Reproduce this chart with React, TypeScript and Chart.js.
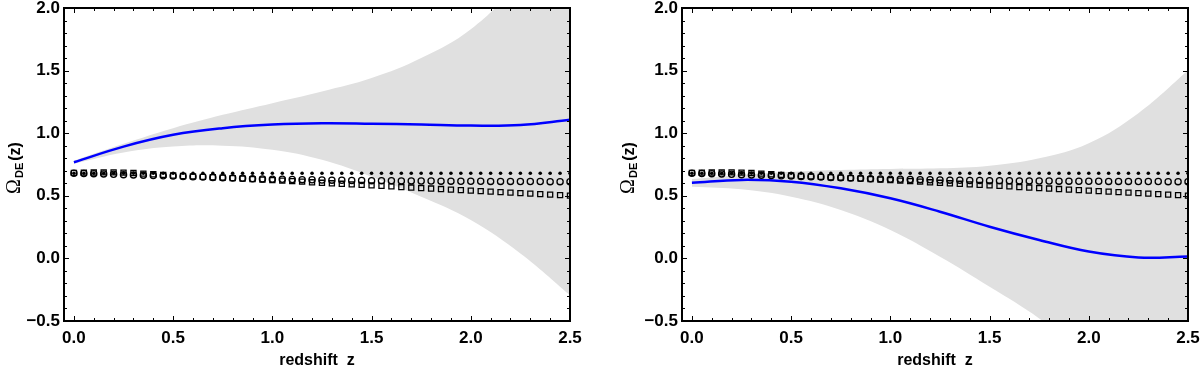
import React, { useEffect, useRef } from 'react';
import { Chart, registerables } from 'chart.js';

Chart.register(...registerables);

// ---------------- data ----------------
const markerZ = [
  0, 0.05, 0.1, 0.15, 0.2, 0.25, 0.3, 0.35, 0.4, 0.45,
  0.5, 0.55, 0.6, 0.65, 0.7, 0.75, 0.8, 0.85, 0.9, 0.95,
  1.0, 1.05, 1.1, 1.15, 1.2, 1.25, 1.3, 1.35, 1.4, 1.45,
  1.5, 1.55, 1.6, 1.65, 1.7, 1.75, 1.8, 1.85, 1.9, 1.95,
  2.0, 2.05, 2.1, 2.15, 2.2, 2.25, 2.3, 2.35, 2.4, 2.45, 2.5,
];

const dotValues = [
  0.68, 0.68, 0.68, 0.68, 0.68, 0.68, 0.68, 0.68, 0.68, 0.68,
  0.68, 0.68, 0.68, 0.68, 0.68, 0.68, 0.68, 0.68, 0.68, 0.68,
  0.68, 0.68, 0.68, 0.68, 0.68, 0.68, 0.68, 0.68, 0.68, 0.68,
  0.68, 0.68, 0.68, 0.68, 0.68, 0.68, 0.68, 0.68, 0.68, 0.68,
  0.68, 0.68, 0.68, 0.68, 0.68, 0.68, 0.68, 0.68, 0.68, 0.68, 0.68,
];

const circleValues = [
  0.680, 0.679, 0.677, 0.675, 0.672, 0.669, 0.667, 0.665, 0.662, 0.660,
  0.658, 0.655, 0.652, 0.650, 0.647, 0.645, 0.642, 0.640, 0.637, 0.635,
  0.633, 0.632, 0.630, 0.629, 0.628, 0.626, 0.625, 0.624, 0.623, 0.622,
  0.621, 0.620, 0.620, 0.619, 0.619, 0.618, 0.618, 0.617, 0.617, 0.616,
  0.616, 0.616, 0.615, 0.615, 0.615, 0.614, 0.614, 0.614, 0.613, 0.613, 0.613,
];

const squareValues = [
  0.683, 0.685, 0.686, 0.687, 0.687, 0.685, 0.682, 0.677, 0.672, 0.667,
  0.662, 0.658, 0.655, 0.651, 0.648, 0.645, 0.641, 0.637, 0.633, 0.629,
  0.625, 0.621, 0.617, 0.613, 0.608, 0.604, 0.600, 0.596, 0.591, 0.587,
  0.583, 0.579, 0.575, 0.570, 0.566, 0.562, 0.558, 0.554, 0.549, 0.545,
  0.541, 0.537, 0.533, 0.529, 0.525, 0.521, 0.517, 0.513, 0.509, 0.505, 0.501,
];

const fitZ = [0, 0.25, 0.5, 0.75, 1.0, 1.25, 1.5, 1.75, 2.0, 2.25, 2.5];

// left panel
const leftCurve = [0.768, 0.893, 0.987, 1.04, 1.069, 1.08, 1.076, 1.069, 1.061, 1.066, 1.107];
const leftUpper = [0.78, 0.915, 1.04, 1.147, 1.24, 1.333, 1.44, 1.6, 1.83, 2.22, 2.75];
const leftLower = [0.755, 0.845, 0.893, 0.9, 0.867, 0.787, 0.653, 0.493, 0.307, 0.04, -0.293];

// right panel
const rightCurve = [0.605, 0.627, 0.613, 0.56, 0.48, 0.373, 0.253, 0.147, 0.055, 0.008, 0.015];
const rightUpper = [0.635, 0.667, 0.693, 0.707, 0.715, 0.72, 0.741, 0.8, 0.92, 1.16, 1.5];
const rightLower = [0.573, 0.552, 0.493, 0.387, 0.227, 0.013, -0.227, -0.48, -0.8, -1.15, -1.55];

const xTickValues = [0, 0.5, 1.0, 1.5, 2.0, 2.5];
const yTickValues = [-0.5, 0, 0.5, 1.0, 1.5, 2.0];
const xMinorStep = 0.1;
const yMinorStep = 0.1;

const xLabel = 'redshift  z';

// ---------------- helpers ----------------
const pts = (xs: number[], ys: number[]) => xs.map((x, i) => ({ x, y: ys[i] }));
const fmt = (v: number) => (v < 0 ? '\u2212' + Math.abs(v).toFixed(1) : v.toFixed(1));

const SANS = "'Liberation Sans', Arial, Helvetica, sans-serif";

type PanelProps = {
  left: number;
  curve: number[];
  upper: number[];
  lower: number[];
  yAxisWidth: number;
  rightPad: number;
  yTitleX: number;
};

function Panel({ left, curve, upper, lower, yAxisWidth, rightPad, yTitleX }: PanelProps) {
  const ref = useRef<HTMLCanvasElement | null>(null);

  useEffect(() => {
    const canvas = ref.current;
    if (!canvas) return;

    const decor = {
      id: 'decor',
      afterDraw(chart: any) {
        const ctx = chart.ctx;
        const a = chart.chartArea;
        const xs = chart.scales.x;
        const ys = chart.scales.y;
        ctx.save();
        ctx.strokeStyle = '#000';
        ctx.lineWidth = 1;
        // x ticks (bottom & top)
        for (let i = 0; ; i++) {
          const vv = Math.round(i * xMinorStep * 1000) / 1000;
          if (vv > xs.max + 1e-9) break;
          const px = Math.round(xs.getPixelForValue(vv)) + 0.5;
          const major = xTickValues.some((t) => Math.abs(t - vv) < 1e-6);
          const len = major ? 5 : 3;
          ctx.beginPath();
          ctx.moveTo(px, a.bottom);
          ctx.lineTo(px, a.bottom - len);
          ctx.moveTo(px, a.top);
          ctx.lineTo(px, a.top + len);
          ctx.stroke();
        }
        // y ticks (left & right)
        for (let i = 0; ; i++) {
          const vv = Math.round((ys.min + i * yMinorStep) * 1000) / 1000;
          if (vv > ys.max + 1e-9) break;
          const py = Math.round(ys.getPixelForValue(vv)) + 0.5;
          const major = yTickValues.some((t) => Math.abs(t - vv) < 1e-6);
          const len = major ? 5 : 3;
          ctx.beginPath();
          ctx.moveTo(a.left, py);
          ctx.lineTo(a.left + len, py);
          ctx.moveTo(a.right, py);
          ctx.lineTo(a.right - len, py);
          ctx.stroke();
        }
        // frame
        ctx.lineWidth = 2;
        ctx.strokeRect(a.left, a.top, a.right - a.left, a.bottom - a.top);

        // x title
        ctx.fillStyle = '#000';
        ctx.font = `bold 16px ${SANS}`;
        ctx.textAlign = 'center';
        ctx.textBaseline = 'alphabetic';
        ctx.fillText(xLabel, (a.left + a.right) / 2, 365);

        // y title (rotated): Ω_DE(z)
        const cy = 168;
        ctx.translate(yTitleX, cy);
        ctx.rotate(-Math.PI / 2);
        const fOmega = "20px 'Liberation Serif', 'Times New Roman', serif";
        const fSub = `bold 11px ${SANS}`;
        const fMain = `bold 16px ${SANS}`;
        ctx.font = fOmega;
        const wO = ctx.measureText('\u03A9').width;
        ctx.font = fSub;
        const wS = ctx.measureText('DE').width;
        ctx.font = fMain;
        const wM = ctx.measureText('(z)').width;
        const gap = 2;
        const total = wO + 1 + wS + gap + wM;
        let x = -total / 2;
        ctx.textAlign = 'left';
        ctx.font = fOmega;
        ctx.fillText('\u03A9', x, 0);
        x += wO + 1;
        ctx.font = fSub;
        ctx.fillText('DE', x, 3);
        x += wS + gap;
        ctx.font = fMain;
        ctx.fillText('(z)', x, 0);
        ctx.restore();
      },
    };

    const chart = new Chart(canvas, {
      type: 'line',
      data: {
        datasets: [
          {
            label: 'upper',
            data: pts(fitZ, upper),
            borderWidth: 0,
            borderColor: 'rgba(0,0,0,0)',
            pointRadius: 0,
            fill: '+1',
            backgroundColor: '#e0e0e0',
            tension: 0.4,
            order: 10,
          },
          {
            label: 'lower',
            data: pts(fitZ, lower),
            borderWidth: 0,
            borderColor: 'rgba(0,0,0,0)',
            pointRadius: 0,
            fill: false,
            tension: 0.4,
            order: 9,
          },
          {
            label: 'fit',
            data: pts(fitZ, curve),
            borderColor: '#0000ff',
            borderWidth: 2.5,
            pointRadius: 0,
            fill: false,
            tension: 0.4,
            order: 4,
          },
          {
            label: 'squares',
            data: pts(markerZ, squareValues),
            showLine: false,
            pointStyle: 'rect',
            pointRadius: 3.6,
            pointBorderWidth: 1.3,
            pointBorderColor: '#000',
            pointBackgroundColor: 'rgba(0,0,0,0)',
            order: 3,
          },
          {
            label: 'circles',
            data: pts(markerZ, circleValues),
            showLine: false,
            pointStyle: 'circle',
            pointRadius: 3.1,
            pointBorderWidth: 1.3,
            pointBorderColor: '#000',
            pointBackgroundColor: 'rgba(0,0,0,0)',
            order: 2,
          },
          {
            label: 'dots',
            data: pts(markerZ, dotValues),
            showLine: false,
            pointStyle: 'circle',
            pointRadius: 1.8,
            pointBorderWidth: 0,
            pointBackgroundColor: '#000',
            order: 1,
          },
        ],
      },
      options: {
        animation: false,
        responsive: false,
        devicePixelRatio: 1,
        layout: { padding: { top: 8, right: rightPad, left: 0, bottom: 0 } },
        plugins: { legend: { display: false }, tooltip: { enabled: false } },
        events: [],
        scales: {
          x: {
            type: 'linear',
            min: -0.05,
            max: 2.5,
            grid: { display: false, drawTicks: false },
            border: { display: false },
            afterBuildTicks: (s: any) => {
              s.ticks = xTickValues.map((v) => ({ value: v }));
            },
            afterFit: (s: any) => {
              s.height = 48;
              s.paddingLeft = 0;
              s.paddingRight = 0;
            },
            ticks: {
              color: '#000',
              font: { family: SANS, size: 17, weight: 'bold', lineHeight: 1 },
              padding: 9,
              maxRotation: 0,
              autoSkip: false,
              callback: (v: any) => fmt(Number(v)),
            },
          },
          y: {
            type: 'linear',
            min: -0.5,
            max: 2.0,
            grid: { display: false, drawTicks: false },
            border: { display: false },
            afterBuildTicks: (s: any) => {
              s.ticks = yTickValues.map((v) => ({ value: v }));
            },
            afterFit: (s: any) => {
              s.width = yAxisWidth;
              s.paddingTop = 0;
              s.paddingBottom = 0;
            },
            ticks: {
              color: '#000',
              font: { family: SANS, size: 17, weight: 'bold', lineHeight: 1 },
              padding: 4,
              autoSkip: false,
              callback: (v: any) => fmt(Number(v)),
            },
          },
        },
      },
      plugins: [decor],
    } as any);

    return () => chart.destroy();
  }, [curve, upper, lower, yAxisWidth, rightPad, yTitleX]);

  return (
    <div style={{ position: 'absolute', left, top: 0, width: 600, height: 369 }}>
      <canvas ref={ref} width={600} height={369} style={{ display: 'block', width: 600, height: 369 }} />
    </div>
  );
}

export default function App() {
  return (
    <div style={{ position: 'absolute', left: 0, top: 0, width: 1200, height: 369, background: '#fff', overflow: 'hidden' }}>
      <Panel left={0} curve={leftCurve} upper={leftUpper} lower={leftLower} yAxisWidth={64} rightPad={30} yTitleX={20} />
      <Panel left={600} curve={rightCurve} upper={rightUpper} lower={rightLower} yAxisWidth={82} rightPad={12} yTitleX={34} />
    </div>
  );
}
